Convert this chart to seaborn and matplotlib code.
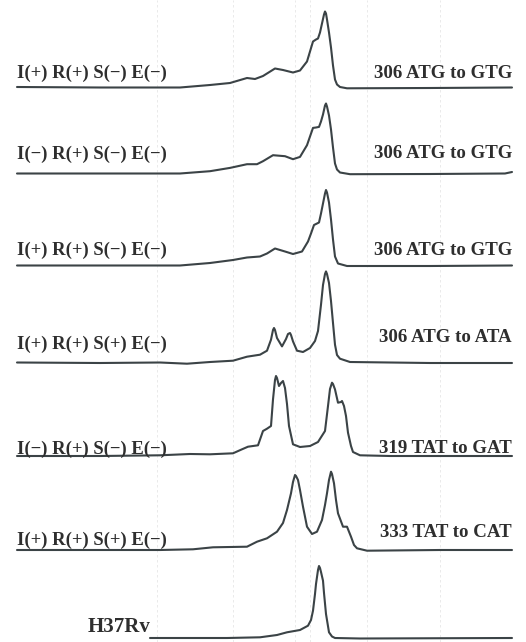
import numpy as np
import pandas as pd
import matplotlib
matplotlib.use("Agg")
import matplotlib.pyplot as plt
import seaborn as sns

# ---------------- data ----------------
left_labels = ["I(+) R(+) S(\u2212) E(\u2212)",
               "I(\u2212) R(+) S(\u2212) E(\u2212)",
               "I(+) R(+) S(\u2212) E(\u2212)",
               "I(+) R(+) S(+) E(\u2212)",
               "I(\u2212) R(+) S(\u2212) E(\u2212)",
               "I(+) R(+) S(+) E(\u2212)",
               "H37Rv"]
right_labels = ["306 ATG to GTG", "306 ATG to GTG", "306 ATG to GTG",
                "306 ATG to ATA", "319 TAT to GAT", "333 TAT to CAT", ""]

t1_pos = [17, 100, 180, 210, 230, 247, 255, 263, 275, 283, 293, 300, 307, 310, 313, 316, 318,
          320, 322, 324, 325, 326, 327, 329, 331, 333, 335, 337, 340, 347, 430, 512]
t1_sig = [0.5, 0, 0, 2.5, 4.5, 9.5, 8.5, 11.5, 19, 17.5, 15, 17, 26, 36, 46, 48, 49,
          55, 64, 73, 76, 74, 68, 55, 40, 22, 8, 3, 0.5, -0.8, -0.5, 0]

t2_pos = [17, 100, 180, 210, 230, 247, 257, 263, 273, 285, 293, 300, 307, 310, 313, 316, 319,
          321, 323, 325, 326, 327, 329, 331, 333, 335, 337, 340, 350, 430, 505, 512]
t2_sig = [0, 0, 0, 2.3, 5.6, 9.3, 9.3, 12.3, 18.3, 17.3, 14.3, 16.6, 28.3, 37, 45.6, 46, 46.6,
          52, 59, 68, 70, 67, 58, 44, 26, 10, 4, 1, -0.7, -0.5, 0, 1.5]

t3_pos = [17, 100, 180, 210, 233, 247, 260, 267, 275, 285, 293, 302, 308, 311, 314, 317, 319,
          321, 323, 325, 326, 327, 329, 331, 333, 335, 338, 347, 430, 512]
t3_sig = [0, 0, 0, 2.5, 5.5, 8, 9, 12, 17, 14, 11.5, 14, 24, 32, 40.5, 42, 43,
          52, 62, 72, 75.5, 73, 63, 46, 26, 9, 2, -0.5, -0.5, 0]

t4_pos = [17, 100, 160, 187, 210, 233, 247, 260, 267, 271, 273, 274, 275, 277, 282, 286, 288,
          290, 291, 293, 297, 303, 310, 315, 318, 321, 323, 325, 326, 327, 329, 331, 333, 335,
          337, 340, 350, 430, 512]
t4_sig = [0.5, 0, 0.5, -0.7, 1, 2.3, 6.3, 8.3, 12.3, 23.3, 33, 35, 33, 25, 16.6, 24, 29,
          30, 28, 21.6, 12.3, 11, 15, 22, 32, 58.3, 78, 89, 91.6, 89, 80, 62, 40, 18.3,
          8, 4.3, 1, 0, 0]

t5_pos = [17, 100, 160, 190, 210, 233, 242, 248, 258, 263, 267, 271, 273, 275, 276, 277, 279,
          281, 283, 285, 287, 289, 293, 300, 310, 318, 325, 328, 330, 332, 333, 335, 338, 341,
          342, 344, 346, 348, 351, 353, 360, 390, 512]
t5_sig = [0, 0, 0.7, 2, 1.7, 2.7, 6.7, 9.3, 10.7, 25, 27.3, 30, 56.6, 76, 80, 78, 70,
          73, 75, 68, 52, 30, 11.7, 9, 10, 14, 25, 50, 67, 73.3, 72, 66.6, 53.3, 54,
          55, 50, 40, 23.3, 10, 4, 0.7, 0, 0]

t6_pos = [17, 100, 160, 193, 213, 247, 257, 267, 277, 283, 287, 291, 293, 295, 296, 298, 300,
          303, 307, 312, 317, 322, 325, 327, 329, 331, 332, 334, 336, 338, 343, 347, 351, 354,
          357, 367, 440, 512]
t6_sig = [0, 0, 0, 0.7, 2.7, 3.3, 8.3, 11.7, 18.3, 27, 40, 56.7, 68, 75, 74, 70, 60,
          43.3, 23.3, 16, 18.3, 30, 45, 56.7, 70, 78.3, 76, 66.7, 50, 36.7, 23.3, 23.3, 13.3, 5,
          1.7, -0.7, 0, 0]

t7_pos = [150, 227, 260, 277, 287, 300, 308, 311, 313, 315, 316, 318, 319, 320, 321, 323, 324,
          326, 329, 332, 335, 360, 512]
t7_sig = [0, 0, 0.7, 3, 5.7, 8, 12.3, 18, 27.3, 44, 54, 68, 72, 70, 66, 57.3, 45,
          24, 5.7, 1.5, 0, -0.5, 0]

positions = [t1_pos, t2_pos, t3_pos, t4_pos, t5_pos, t6_pos, t7_pos]
signals = [t1_sig, t2_sig, t3_sig, t4_sig, t5_sig, t6_sig, t7_sig]

# ---------------- layout ----------------
baselines = [87.5, 173.5, 265.5, 363, 456, 550, 638]     # vertical placement of each trace
left_rise = [9.5, 15, 11, 14.5, 2, 5, 6]                 # text baseline above trace line
right_rise = [9.5, 15.5, 10.5, 21, 3, 13, 0]
line_color = "#3b4346"
text_color = "#2e2e2e"

rows = []
for k, (p, s) in enumerate(zip(positions, signals)):
    for xi, yi in zip(p, s):
        rows.append({"trace": k, "pos": xi, "level": yi - baselines[k]})
df = pd.DataFrame(rows)

sns.set_theme(style="white")
plt.rcParams["font.family"] = ["Liberation Serif", "DejaVu Serif"]

fig = plt.figure(figsize=(5.26, 6.42), dpi=100)
ax = fig.add_axes([0, 0, 1, 1])

# faint scan grid
for gx in [157, 233, 295, 310, 367, 440]:
    ax.axvline(gx, color="#e6e6e6", lw=0.6, ls=(0, (3, 3)), zorder=0)

sns.lineplot(data=df, x="pos", y="level", hue="trace", palette=[line_color] * 7,
             estimator=None, sort=False, legend=False, linewidth=1.5, ax=ax)
for ln in ax.get_lines():
    ln.set_solid_joinstyle("round")
    ln.set_solid_capstyle("round")
ax.set_xlim(0, 526)
ax.set_ylim(-642, 0)
ax.axis("off")

for k in range(7):
    if k < 6:
        ax.text(17, -(baselines[k] - left_rise[k]), left_labels[k], ha="left", va="baseline",
                fontsize=13.4, fontweight="bold", color=text_color)
        ax.text(512, -(baselines[k] - right_rise[k]), right_labels[k], ha="right",
                va="baseline", fontsize=13.6, fontweight="bold", color=text_color)
    else:
        ax.text(88, -(baselines[k] - left_rise[k]), left_labels[k], ha="left", va="baseline",
                fontsize=15, fontweight="bold", color=text_color)

fig.savefig("out.png", dpi=100)
